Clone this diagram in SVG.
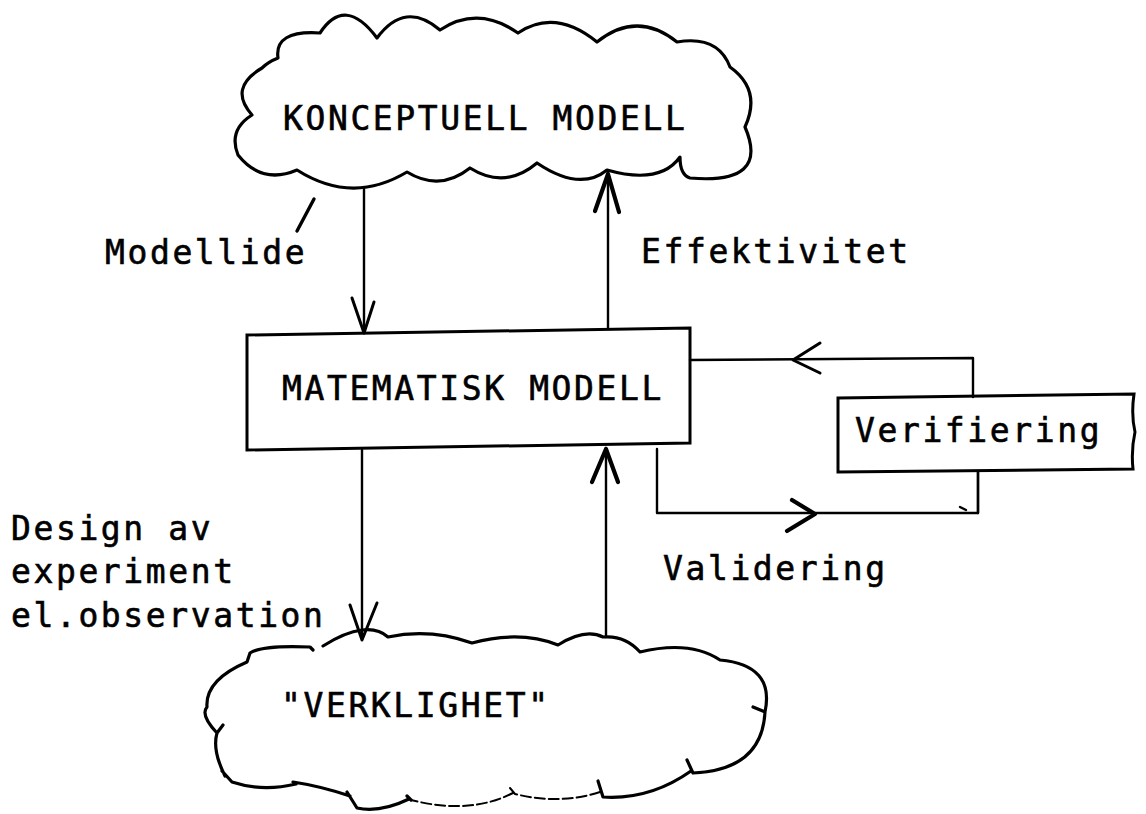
<svg xmlns="http://www.w3.org/2000/svg" width="1146" height="814" viewBox="0 0 1146 814">
  <style>
    .cloud { fill: none; stroke: #000; stroke-width: 3.2; stroke-linejoin: round; stroke-linecap: round; }
    .faint { stroke-width: 2; stroke-dasharray: 10 4; }
    .box { fill: #fff; stroke: #000; stroke-width: 3; stroke-linejoin: miter; }
    .line { fill: none; stroke: #000; stroke-width: 2.4; stroke-linecap: round; stroke-linejoin: round; }
    .head { fill: none; stroke: #000; stroke-width: 3; stroke-linecap: round; stroke-linejoin: round; }
    .heavy { stroke-width: 4.2; }
    text { font-family: "DejaVu Sans Mono", "Liberation Mono", monospace; font-size: 33px; letter-spacing: 2.6px; fill: #000; stroke: #000; stroke-width: 0.6px; }
  </style>
  <rect width="1146" height="814" fill="#fff"/>

  <!-- conceptual model cloud -->
  <g id="konceptuell">
    <path class="cloud" d="M252,115 Q228,88 262,68 Q268,62 278,58 Q274,30 320,33 Q345,-5 377,38 Q405,0 440,30 Q478,5 518,33 Q555,8 597,42 Q637,10 677,42 Q718,35 730,67 Q762,90 745,127 Q770,185 690,178 Q680,175 680,157 Q660,185 607,170 Q580,192 537,163 Q505,190 470,168 Q440,192 407,172 Q352,205 297,170 Q262,185 238,155 Q228,130 252,115 Z"/>
    <text x="283" y="130">KONCEPTUELL MODELL</text>
  </g>

  <!-- mathematical model box -->
  <g id="matematisk">
    <path class="box" d="M247,335 L690,328 L690,443 L247,450 Z"/>
    <text x="282" y="400">MATEMATISK MODELL</text>
  </g>

  <!-- verification box -->
  <g id="verifiering">
    <path class="box" d="M838,398 L1134,394 Q1131,415 1135,432 Q1131,450 1133,469 L838,472 Z"/>
    <text x="855" y="442">Verifiering</text>
  </g>

  <!-- reality cloud -->
  <g id="verklighet">
    <!-- upper rim and right side -->
    <path class="cloud" d="M323,646 Q345,632 362,630 Q378,628 388,637 Q430,628 472,643 Q520,630 558,645 Q585,628 603,637 Q625,635 640,652 Q690,640 720,660 Q775,665 765,712 L753,707 M765,712 Q762,770 693,773 L687,760"/>
    <path class="cloud" d="M691,771 Q650,800 603,797 L598,781"/>
    <!-- faint bottom scallops -->
    <path class="cloud faint" d="M600,792 Q560,805 515,794 L510,788 M513,793 Q470,815 411,800"/>
    <!-- lower left rim -->
    <path class="cloud" d="M411,800 L407,796 M409,799 Q380,813 357,808 L347,792 M350,796 Q320,786 293,782 M296,784 Q262,792 232,782 L222,771 M225,776 Q212,750 217,733 L223,725 M217,733 Q200,715 207,707 Q205,680 247,662 L250,653 Q262,645 310,647 L313,650"/>
    <text x="281" y="717">"VERKLIGHET"</text>
  </g>

  <!-- connectors -->
  <g id="connectors">
    <!-- Modellide: concept down to math model -->
    <line class="line" x1="364" y1="188" x2="364" y2="333"/>
    <polyline class="head" points="352,298 364,333 374,302"/>
    <!-- Effektivitet: math model up to concept -->
    <line class="line" x1="608" y1="329" x2="608" y2="172"/>
    <polyline class="head heavy" points="595,211 608,174 619,212"/>
    <!-- design of experiment: math model down to reality -->
    <line class="line" x1="362" y1="450" x2="362" y2="638"/>
    <polyline class="head" points="350,605 362,640 377,603"/>
    <!-- reality up to math model -->
    <line class="line" x1="606" y1="637" x2="606" y2="448"/>
    <polyline class="head heavy" points="592,482 606,449 618,482"/>
    <!-- verification loop -->
    <polyline class="line" points="690,360 973,358 973,397"/>
    <polyline class="head" points="820,343 793,360 820,373"/>
    <!-- validation loop -->
    <polyline class="line" points="657,449 657,513 978,513 978,472"/>
    <line class="line" x1="978" y1="513" x2="978" y2="472" stroke-width="3.6"/>
    <polyline class="head heavy" points="792,500 815,514 787,531"/>
    <line class="line" x1="960" y1="507" x2="966" y2="510" stroke-width="2"/>
    <!-- pen mark beside the concept cloud -->
    <path d="M314,199 Q306,214 297,231" fill="none" stroke="#000" stroke-width="3.4" stroke-linecap="round"/>
  </g>

  <!-- labels -->
  <g id="labels">
    <text x="105" y="264">Modellide</text>
    <text x="641" y="263">Effektivitet</text>
    <text x="11" y="540">Design av</text>
    <text x="11" y="583">experiment</text>
    <text x="11" y="627">el.observation</text>
    <text x="663" y="580">Validering</text>
  </g>
</svg>
